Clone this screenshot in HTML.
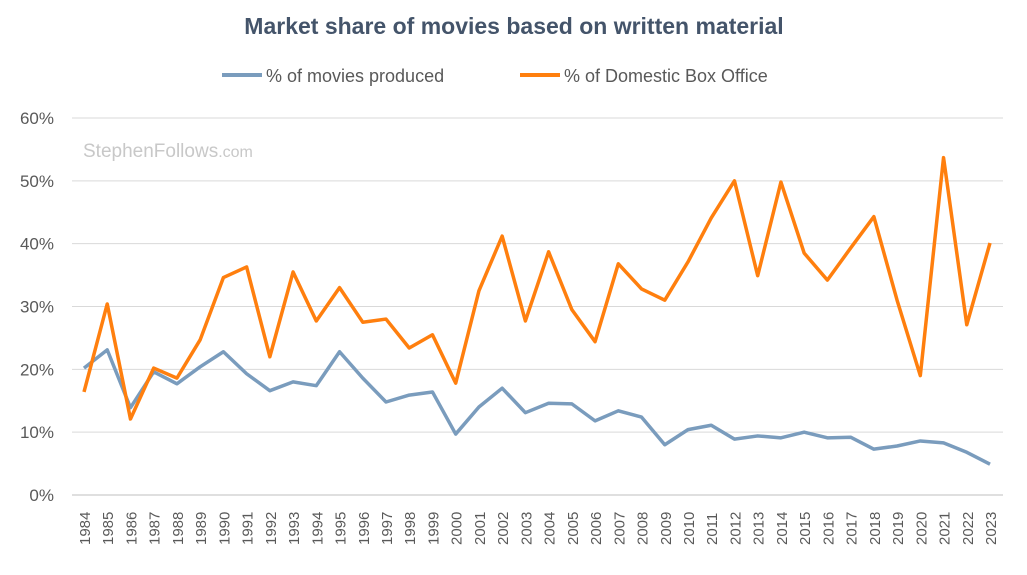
<!DOCTYPE html>
<html><head><meta charset="utf-8"><style>
body{margin:0;background:#fff;width:1027px;height:570px;overflow:hidden;font-family:"Liberation Sans",sans-serif}
</style></head><body>
<svg id="chart" width="1027" height="570" xmlns="http://www.w3.org/2000/svg">
<text x="514" y="34" text-anchor="middle" font-size="23" font-weight="bold" fill="#44546a">Market share of movies based on written material</text>
<g>
<line x1="222" y1="75" x2="262" y2="75" stroke="#7a9cbd" stroke-width="4"/>
<text x="266" y="82" font-size="18" fill="#595959">% of movies produced</text>
<line x1="520" y1="75" x2="560" y2="75" stroke="#ff7f0e" stroke-width="4"/>
<text x="564" y="82" font-size="18" fill="#595959">% of Domestic Box Office</text>
</g>
<text x="83" y="157" font-size="19" fill="#c8c8c8">StephenFollows<tspan font-size="16">.com</tspan></text>
<g id="grid"></g><g id="xt"></g><g id="series"></g>
</svg>
<script>
const years=[];for(let y=1984;y<=2023;y++)years.push(y);
const produced=[20.2,23.1,13.9,19.6,17.7,20.4,22.8,19.3,16.6,18.0,17.4,22.8,18.6,14.8,15.9,16.4,9.7,14.0,17.0,13.1,14.6,14.5,11.8,13.4,12.4,8.0,10.4,11.1,8.9,9.4,9.1,10.0,9.1,9.2,7.3,7.8,8.6,8.3,6.8,4.9];
const boxOffice=[16.4,30.4,12.1,20.2,18.6,24.7,34.6,36.3,22.0,35.5,27.7,33.0,27.5,28.0,23.4,25.5,17.8,32.5,41.2,27.7,38.7,29.5,24.4,36.8,32.8,31.0,37.1,44.1,50.0,34.9,49.8,38.5,34.2,39.3,44.3,31.0,19.0,53.7,27.1,40.1];
const yTicks=[0,10,20,30,40,50,60];
const NS="http://www.w3.org/2000/svg";
const x0=84,x1=990,yb=495,yt=118;
const xs=i=>x0+(x1-x0)*i/(years.length-1);
const ys=v=>yb-(yb-yt)*v/60;
function mk(t,a,p){const e=document.createElementNS(NS,t);for(const k in a)e.setAttribute(k,a[k]);p.appendChild(e);return e;}
const g=document.getElementById('grid');
yTicks.forEach(v=>{
 const l=mk('line',{x1:72,x2:1003,y1:ys(v),y2:ys(v),stroke:v===0?'#bfbfbf':'#d9d9d9','stroke-width':1},g);
 
 
 const t=mk('text',{x:54,y:ys(v)+6,'text-anchor':'end','font-size':17,fill:'#595959'},g);
 t.textContent=v+'%';
 
 
});
const xt=document.getElementById('xt');
years.forEach((y,i)=>{
 const t=mk('text',{x:0,y:0,transform:`translate(${xs(i)+6},${545}) rotate(-90)`,'font-size':15,fill:'#595959'},xt);
 t.textContent=y;
 
 
});
const s=document.getElementById('series');
function line(arr,col,name){
 const p=mk('polyline',{points:arr.map((v,i)=>xs(i)+','+ys(v)).join(' '),fill:'none',stroke:col,'stroke-width':3.5,'stroke-linejoin':'round'},s);
 
 
}
line(produced,'#7a9cbd','produced-line');
line(boxOffice,'#ff7f0e','box-office-line');
</script>
</body></html>
